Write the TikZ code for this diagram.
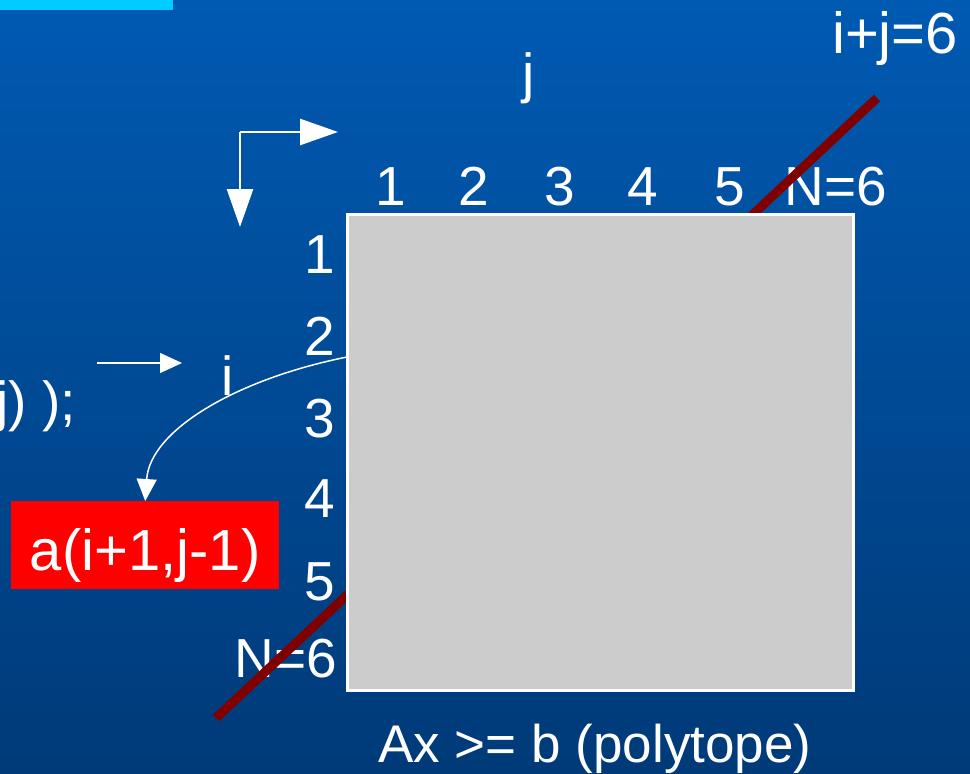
\documentclass[tikz,border=0pt]{standalone}
\usepackage{fontspec}
\setmainfont{Liberation Sans}
\usetikzlibrary{arrows.meta}
\definecolor{bgtop}{RGB}{0,90,178}
\definecolor{bgbot}{RGB}{0,58,120}
\definecolor{cyanbar}{RGB}{0,204,255}
\definecolor{darkred}{RGB}{128,0,0}
\definecolor{boxgray}{RGB}{204,204,204}
\tikzset{
  lbl/.style={text=white, inner sep=0pt, font=\fontsize{55}{66}\selectfont},
  biglbl/.style={text=white, inner sep=0pt, font=\fontsize{58}{70}\selectfont},
  smalllbl/.style={text=white, inner sep=0pt, font=\fontsize{53}{64}\selectfont},
  axisarrow/.style={draw=white, line width=2.7pt, -{Triangle[length=38pt,width=26pt]}},
  thinarrow/.style={draw=white, line width=1.2pt, -{Triangle[length=22pt,width=20pt]}},
  curvearrow/.style={draw=white, line width=1.5pt, -{Triangle[length=22pt,width=20pt]}},
  diag/.style={draw=darkred, line width=9pt},
}
\begin{document}
\begin{tikzpicture}[x=1pt,y=-1pt]
\useasboundingbox (0,0) rectangle (970,774);
% background
\shade[top color=bgtop, bottom color=bgbot] (0,0) rectangle (970,774);
\fill[cyanbar] (0,0) rectangle (173,10);

% coordinate arrows
\coordinate (corner) at (240,132);
\coordinate (jtip) at (338,132);
\coordinate (itip) at (240,227);
\draw[axisarrow] (corner) -- (jtip);
\draw[axisarrow] (corner) -- (itip);

% labels
\node[lbl, anchor=base] (jlab) at (529,92) {j};
\node[biglbl, anchor=base west] (eqlab) at (832,53) {i+j=6};

\node[lbl, anchor=base] (c1) at (391,205) {1};
\node[lbl, anchor=base] (c2) at (474,205) {2};
\node[lbl, anchor=base] (c3) at (560,205) {3};
\node[lbl, anchor=base] (c4) at (643,205) {4};
\node[lbl, anchor=base] (c5) at (730,205) {5};
\node[lbl, anchor=base] (cN) at (836,205) {N=6};

\node[lbl, anchor=base east] (r1) at (335,273) {1};
\node[lbl, anchor=base east] (r2) at (335,355) {2};
\node[lbl, anchor=base east] (r3) at (335,437) {3};
\node[lbl, anchor=base east] (r4) at (335,517) {4};
\node[lbl, anchor=base east] (r5) at (335,600) {5};
\node[lbl, anchor=base east] (rN) at (337,677) {N=6};

\node[lbl, anchor=base east] (code) at (76,420) {j) );};
\node[lbl, anchor=base] (ilab) at (228,395) {i};

\coordinate (sa) at (97,363);
\coordinate (sb) at (182,363);
\draw[thinarrow] (sa) -- (sb);

% diagonal line i+j=6
\coordinate (la) at (216,718);
\coordinate (lb) at (877,98);
\draw[diag] (la) -- (lb);

% polytope square
\node[draw=white, line width=3pt, fill=boxgray, minimum width=506pt, minimum height=476pt,
      inner sep=0pt, outer sep=0pt, anchor=north west] (sq) at (347.5,214.5) {};

\node[smalllbl, anchor=base] (poly) at (595,762) {Ax >= b (polytope)};

% red box
\node[biglbl, fill=red, anchor=north west, minimum width=268pt,
      text height=69pt, text depth=19pt] (rbox) at (11,501) {a(i+1,j-1)};

% curved arrow
\coordinate (cstart) at (347,357);
\draw[curvearrow] (cstart) .. controls (237,379) and (150,430) .. (rbox.north);
\end{tikzpicture}
\end{document}
